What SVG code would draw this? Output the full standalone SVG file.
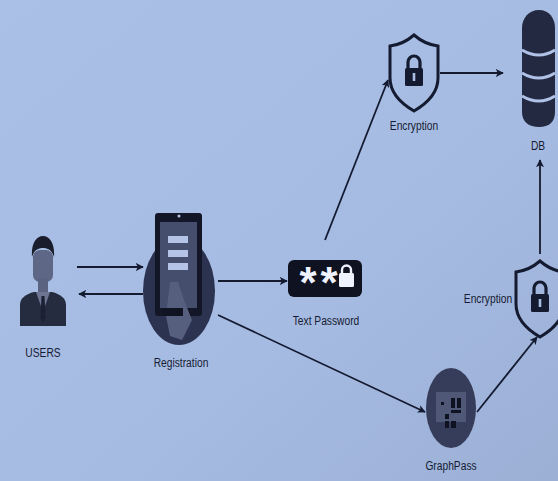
<svg xmlns="http://www.w3.org/2000/svg" width="558" height="481" viewBox="0 0 558 481">
  <defs>
    <linearGradient id="bg" x1="0" y1="0" x2="1" y2="1">
      <stop offset="0" stop-color="#abc0e7"/>
      <stop offset="0.6" stop-color="#a6bbe2"/>
      <stop offset="1" stop-color="#9cb0d6"/>
    </linearGradient>
    <marker id="arrow" viewBox="0 0 10 10" refX="9" refY="5" markerWidth="8" markerHeight="8" orient="auto-start-reverse" markerUnits="userSpaceOnUse">
      <path d="M0,0 L10,5 L0,10 L2.5,5 Z" fill="#141a30"/>
    </marker>
    <!-- shield with padlock -->
    <g id="shield">
      <path d="M0,-38 C8,-31 16,-28 24,-27 L24,5 C24,20 12,31 0,38 C-12,31 -24,20 -24,5 L-24,-27 C-16,-28 -8,-31 0,-38 Z" fill="none" stroke="#141a30" stroke-width="3"/>
      <path d="M-6,-5 L-6,-11 A6,6 0 0 1 6,-11 L6,-5" fill="none" stroke="#141a30" stroke-width="3.2"/>
      <rect x="-9" y="-5" width="18" height="18" rx="1.5" fill="#141a30"/>
      <rect x="-1.3" y="0" width="2.6" height="8" fill="#a9bde4"/>
    </g>
  </defs>
  <style>
    .lbl { font-family: "Liberation Sans", Arial, sans-serif; font-size: 12.5px; fill: #161c33; text-anchor: middle; }
    .conn line { stroke: #141a30; stroke-width: 1.8; marker-end: url(#arrow); }
    .star { font-family: "Liberation Sans", Arial, sans-serif; font-size: 44px; font-weight: bold; fill: #eef2ff; text-anchor: middle; }
  </style>

  <rect width="558" height="481" fill="url(#bg)"/>

  <!-- connectors -->
  <g id="connectors" class="conn">
    <line x1="77" y1="267" x2="143" y2="267"/>
    <line x1="143" y1="294" x2="79" y2="294"/>
    <line x1="218" y1="281" x2="287" y2="281"/>
    <line x1="325" y1="240" x2="388" y2="80"/>
    <line x1="440" y1="73" x2="503" y2="73"/>
    <line x1="218" y1="315" x2="425" y2="412"/>
    <line x1="477" y1="412" x2="537" y2="337"/>
    <line x1="540" y1="254" x2="540" y2="160"/>
  </g>

  <!-- users -->
  <g id="users">
    <path d="M20,326 L20,305 C20,298 26,294 34,292 L52,292 C60,294 66,298 66,305 L66,326 Z" fill="#262c40"/>
    <path d="M36,292 L43,312 L50,292 Z" fill="#6d7590"/>
    <path d="M41.5,296 L44.5,296 L45.5,318 L43,322 L40.5,318 Z" fill="#1b2034"/>
    <rect x="33" y="250" width="20" height="32" rx="7" fill="#5e6785"/>
    <rect x="38" y="278" width="10" height="14" fill="#5a6380"/>
    <path d="M32,257 C31,244 36,236 43,236 C50,236 55,244 54,257 C52,250 48,248 43,248 C38,248 34,250 32,257 Z" fill="#1a1e2c"/>
    <text class="lbl" transform="translate(43 357) scale(0.82 1)" x="0" y="0">USERS</text>
  </g>

  <!-- registration -->
  <g id="registration">
    <ellipse cx="179" cy="291" rx="36" ry="54" fill="#2c3350"/>
    <rect x="155" y="213" width="47" height="103" rx="3" fill="#121626"/>
    <rect x="160" y="222" width="37" height="86" fill="#454e6c"/>
    <rect x="168" y="236" width="20" height="7" fill="#b5c4e6"/>
    <rect x="168" y="250" width="20" height="7" fill="#b5c4e6"/>
    <rect x="168" y="263" width="20" height="7" fill="#b5c4e6"/>
    <path d="M170,282 L178,282 L184,300 L192,320 L182,340 L170,336 L166,316 Z" fill="#56607e"/>
    <rect x="163" y="308" width="20" height="8" fill="#0f1322"/>
    <circle cx="179" cy="216" r="1.5" fill="#b5c4e6"/>
    <text class="lbl" transform="translate(181 367) scale(0.82 1)" x="0" y="0">Registration</text>
  </g>

  <!-- text password -->
  <g id="text-password">
    <rect x="288" y="260" width="74" height="37" rx="6" fill="#0f1220"/>
    <text class="star" x="308" y="298">*</text>
    <text class="star" x="329" y="298">*</text>
    <path d="M342,274 L342,270 A4.5,4.5 0 0 1 351,270 L351,274" fill="none" stroke="#eef2ff" stroke-width="2.4"/>
    <rect x="339" y="273" width="15" height="14" rx="1.5" fill="#eef2ff"/>
    <text class="lbl" transform="translate(326 325) scale(0.82 1)" x="0" y="0">Text Password</text>
  </g>

  <!-- encryption (top) -->
  <g id="encryption-top">
    <use href="#shield" x="414" y="73"/>
    <text class="lbl" transform="translate(414 130) scale(0.82 1)" x="0" y="0">Encryption</text>
  </g>

  <!-- database -->
  <g id="db">
    <path d="M522,28 C522,18 529,10 539,10 C549,10 555,18 555,28 L555,112 C555,122 549,127 539,127 C529,127 522,122 522,112 Z" fill="#232940"/>
    <path d="M522,50 Q539,60 555,50" fill="none" stroke="#b0c2e8" stroke-width="3"/>
    <path d="M522,73 Q539,83 555,73" fill="none" stroke="#b0c2e8" stroke-width="3"/>
    <path d="M522,96 Q539,106 555,96" fill="none" stroke="#b0c2e8" stroke-width="3"/>
    <text class="lbl" transform="translate(538 150) scale(0.82 1)" x="0" y="0">DB</text>
  </g>

  <!-- encryption (right) -->
  <g id="encryption-right">
    <use href="#shield" x="540" y="299"/>
    <text class="lbl" transform="translate(488 303) scale(0.82 1)" x="0" y="0">Encryption</text>
  </g>

  <!-- graphpass -->
  <g id="graphpass">
    <ellipse cx="451" cy="408" rx="25" ry="40" fill="#363d5a"/>
    <rect x="436" y="392" width="30" height="30" fill="#4f5876"/>
    <rect x="451" y="398" width="4" height="10" fill="#0f1220"/>
    <rect x="457" y="398" width="4" height="10" fill="#0f1220"/>
    <rect x="451" y="410" width="10" height="3" fill="#0f1220"/>
    <rect x="445" y="414" width="4" height="5" fill="#0f1220"/>
    <rect x="445" y="421" width="4" height="7" fill="#0f1220"/>
    <rect x="451" y="421" width="5" height="7" fill="#0f1220"/>
    <rect x="441" y="402" width="3" height="3" fill="#0f1220"/>
    <text class="lbl" transform="translate(451 470) scale(0.82 1)" x="0" y="0">GraphPass</text>
  </g>
</svg>
